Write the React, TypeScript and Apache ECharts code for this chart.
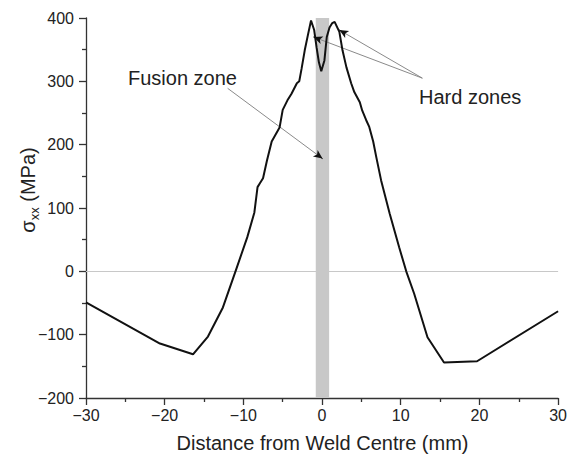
import React, { useEffect, useRef } from "react";
import * as echarts from "echarts";

const distance = [-30, -20.6, -16.4, -14.5, -12.6, -11, -9.5, -8.6, -8.2, -7.9, -7.5, -7.0, -6.4, -5.4, -5.0, -4.4, -3.9, -3.2, -2.9, -2.6, -2.2, -1.8, -1.4, -1.0, -0.7, -0.4, -0.1, 0.3, 0.6, 0.95, 1.3, 1.6, 2.2, 2.6, 3.1, 3.7, 4.1, 4.8, 5.1, 5.6, 6.0, 6.5, 6.9, 7.5, 8.6, 9.8, 10.7, 11.7, 13.4, 15.5, 19.7, 30];
const stress = [-49, -114, -131, -103, -57, 0, 54, 93, 133, 139, 147, 175, 205, 227, 255, 270, 280, 297, 300, 320, 349, 373, 396, 381, 354, 330, 316, 333, 370, 385, 392, 394, 378, 349, 322, 297, 283, 267, 254, 239, 228, 205, 180, 144, 91, 38, 0, -35, -104, -144, -142, -63];

const xTicks = [-30, 30, 10];
const yTicks = [-200, 400, 100];
const fusionBand = [-0.8, 0.9];
const fusionArrow = [[-12.0, 289], [0.06, 178]];
const hardArrowLeft = [[12.75, 305], [-1.08, 370]];
const hardArrowRight = [[12.75, 305], [2.2, 381]];

const FONT = "'Liberation Sans', Arial, sans-serif";

export default function App() {
  const ref = useRef<HTMLDivElement>(null);
  useEffect(() => {
    if (!ref.current) return;
    const chart = echarts.init(ref.current, null, { renderer: "svg" });
    const greyLine = { color: "#8a8a8a", width: 1, type: "solid" };
    const shaft = (pts: number[][]) => [
      { coord: pts[0], symbol: "none", lineStyle: greyLine },
      { coord: pts[1], symbol: "none" },
    ];
    const head = (pts: number[][]) => {
      const f = 0.96;
      const s = [pts[0][0] + (pts[1][0] - pts[0][0]) * f, pts[0][1] + (pts[1][1] - pts[0][1]) * f];
      return [
        { coord: s, symbol: "none", lineStyle: { color: "#111", width: 1, type: "solid" } },
        { coord: pts[1], symbol: "arrow", symbolSize: [6, 9] },
      ];
    };
    chart.setOption({
      animation: false,
      backgroundColor: "#ffffff",
      textStyle: { fontFamily: FONT },
      grid: { left: 86, right: 10, top: 18, bottom: 62 },
      xAxis: {
        type: "value",
        min: xTicks[0],
        max: xTicks[1],
        interval: xTicks[2],
        axisLine: { show: true, onZero: false, lineStyle: { color: "#333", width: 1.3 } },
        axisTick: { show: true, length: 7, lineStyle: { color: "#333", width: 1.3 } },
        minorTick: { show: true, splitNumber: 2, length: 4, lineStyle: { color: "#333", width: 1.3 } },
        splitLine: { show: false },
        axisLabel: {
          fontSize: 16,
          color: "#222",
          margin: 9,
          fontFamily: FONT,
          formatter: (v: number) => (v < 0 ? "\u2212" + Math.abs(v) : String(v)),
        },
      },
      yAxis: {
        type: "value",
        min: yTicks[0],
        max: yTicks[1],
        interval: yTicks[2],
        axisLine: { show: true, onZero: false, lineStyle: { color: "#333", width: 1.3 } },
        axisTick: { show: true, length: 7, lineStyle: { color: "#333", width: 1.3 } },
        minorTick: { show: true, splitNumber: 2, length: 4, lineStyle: { color: "#333", width: 1.3 } },
        splitLine: { show: false },
        axisLabel: {
          fontSize: 16,
          color: "#222",
          margin: 12,
          fontFamily: FONT,
          formatter: (v: number) => (v < 0 ? "\u2212" + Math.abs(v) : String(v)),
        },
      },
      series: [
        {
          type: "line",
          data: distance.map((d, i) => [d, stress[i]]),
          showSymbol: false,
          symbol: "none",
          lineStyle: { color: "#111", width: 2 },
          z: 5,
          markArea: {
            silent: true,
            itemStyle: { color: "#c8c8c8" },
            data: [[{ xAxis: fusionBand[0] }, { xAxis: fusionBand[1] }]],
          },
          markLine: {
            silent: true,
            label: { show: false },
            symbol: "none",
            animation: false,
            data: [
              { yAxis: 0, lineStyle: { color: "#c8c8c8", width: 1, type: "solid" } },
              shaft(fusionArrow),
              shaft(hardArrowLeft),
              shaft(hardArrowRight),
              head(fusionArrow),
              head(hardArrowLeft),
              head(hardArrowRight),
            ],
          },
        },
      ],
      graphic: [
        {
          type: "text",
          x: 128,
          y: 78,
          style: { text: "Fusion zone", font: `20px ${FONT}`, fill: "#222", textAlign: "left", textVerticalAlign: "middle", align: "left", verticalAlign: "middle" },
        },
        {
          type: "text",
          x: 419,
          y: 97,
          style: { text: "Hard zones", font: `20px ${FONT}`, fill: "#222", textAlign: "left", textVerticalAlign: "middle", align: "left", verticalAlign: "middle" },
        },
        {
          type: "text",
          x: 322.5,
          y: 443,
          style: { text: "Distance from Weld Centre (mm)", font: `20px ${FONT}`, fill: "#222", textAlign: "center", textVerticalAlign: "middle", align: "center", verticalAlign: "middle" },
        },
        {
          type: "text",
          x: 28,
          y: 190,
          rotation: Math.PI / 2,
          style: {
            text: "{a|\u03c3}{b|xx}{a| (MPa)}",
            fill: "#222",
            textAlign: "center",
            textVerticalAlign: "middle",
            align: "center",
            verticalAlign: "middle",
            rich: {
              a: { fontSize: 20, fontFamily: FONT, fill: "#222", color: "#222", lineHeight: 26, verticalAlign: "middle" },
              b: { fontSize: 13, fontFamily: FONT, fill: "#222", color: "#222", lineHeight: 26, verticalAlign: "bottom", padding: [10, 0, 0, 0] },
            },
          },
        },
      ],
    });
    return () => chart.dispose();
  }, []);
  return <div ref={ref} style={{ position: "fixed", left: 0, top: 0, width: 570, height: 460 }} />;
}
